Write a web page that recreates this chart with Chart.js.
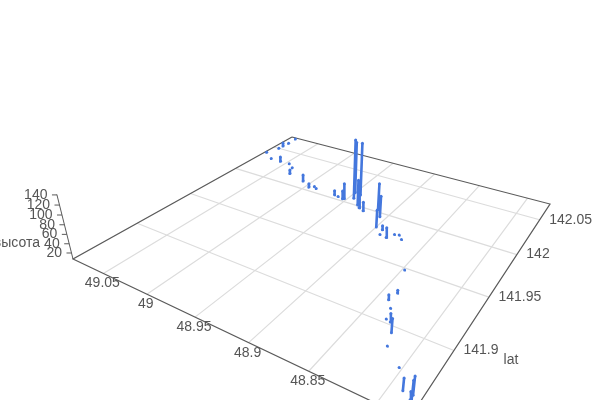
<!DOCTYPE html>
<html>
<head>
<meta charset="utf-8">
<script src="https://cdn.jsdelivr.net/npm/chart.js@4"></script>
<style>body{margin:0;background:#fff}canvas{display:block}</style>
</head>
<body>
<canvas id="chart" width="600" height="400"></canvas>
<script>
// track points
const lon = [49.081,49.080,49.081,49.081,49.086,49.071,49.058,49.046,49.037,49.031,49.009,48.996,48.992,48.988,48.965,48.960,
  48.954,48.953,48.945,48.950,48.935,48.931,48.943,48.925,48.900,48.914,48.906,48.893,48.884,48.891,48.880,48.876,
  48.871,48.848,48.839,48.841,48.835,48.832,48.828,48.822,48.818,48.802,48.791,48.784,48.784,48.783];
const lat = [142.074,142.063,142.056,142.050,142.038,142.030,142.030,142.030,142.025,142.016,142.011,142.005,142.008,142.006,142.005,142.004,
  142.003,142.004,142.008,142.016,142.001,141.998,142.015,141.996,141.982,142.003,141.995,141.981,141.974,141.975,141.980,141.981,
  141.977,141.948,141.926,141.918,141.912,141.903,141.902,141.895,141.885,141.875,141.863,141.863,141.860,141.860];
const height = [7,7,15,7,7,7,18,7,7,16,22,15,7,7,17,7,
  26,43,144,127,66,45,130,27,45,68,55,16,29,7,7,7,
  7,7,13,17,7,7,24,35,7,7,31,43,22,44];

const lonTicks = [49.05,49,48.95,48.9,48.85,48.8];
const latTicks = [141.9,141.95,142,142.05];
const heightTicks = [20,40,60,80,100,120,140];

// scene box and the camera: ground corners seen on screen, vanishing point of the verticals
const lonMax = 49.088, lonMin = 48.778, latMin = 141.85, latMax = 142.076, heightMin = 6.8;
const A = [73,259], D = [409,419], C = [550,204], B = [292,137], V = [321,1250];
const zScale = -0.000456;

const dx1 = D[0]-C[0], dx2 = B[0]-C[0], sx = A[0]-D[0]+C[0]-B[0];
const dy1 = D[1]-C[1], dy2 = B[1]-C[1], sy = A[1]-D[1]+C[1]-B[1];
const den = dx1*dy2-dx2*dy1;
const g = (sx*dy2-dx2*sy)/den, h = (dx1*sy-sx*dy1)/den;
const a = D[0]-A[0]+g*D[0], b = B[0]-A[0]+h*B[0], d = D[1]-A[1]+g*D[1], e = B[1]-A[1]+h*B[1];

function project(lo, la, z){
  const p = (lonMax-lo)/(lonMax-lonMin), q = (la-latMin)/(latMax-latMin);
  const s = zScale*(z-heightMin);
  const w = g*p+h*q+1+s;
  return {x:(a*p+b*q+A[0]+s*V[0])/w, y:(d*p+e*q+A[1]+s*V[1])/w};
}

const gridColor = '#dcdcdc', axisColor = '#5a5a5a', markColor = '#4477dd';

function lineSet(data, color, width){
  return {type:'scatter', data:data, showLine:true, borderColor:color, borderWidth:width, pointRadius:0, spanGaps:false};
}

let gridPts = [];
lonTicks.forEach(t => gridPts.push(project(t,latMin,heightMin), project(t,latMax,heightMin), {x:null,y:null}));
latTicks.forEach(t => gridPts.push(project(lonMin,t,heightMin), project(lonMax,t,heightMin), {x:null,y:null}));

const box = [project(lonMax,latMax,heightMin), project(lonMax,latMin,heightMin), project(lonMin,latMin,heightMin), project(lonMin,latMax,heightMin), project(lonMax,latMax,heightMin)];

let zAxis = [project(lonMax,latMin,heightMin), project(lonMax,latMin,141), {x:null,y:null}];
heightTicks.forEach(t => {
  const p = project(lonMax,latMin,t);
  zAxis.push({x:p.x-5,y:p.y}, p, {x:null,y:null});
});

let stems = [], dots = [];
lon.forEach((lo,i) => {
  const base = project(lo,lat[i],heightMin), top = project(lo,lat[i],height[i]);
  stems.push(base, top, {x:null,y:null});
  dots.push(top);
  if (height[i] > 7) dots.push(base);
});

const textLabels = {
  id:'textLabels',
  afterDraw(chart){
    const c = chart.ctx, sxx = chart.scales.x, syy = chart.scales.y;
    const put = (str, x, y, align) => {
      c.textAlign = align;
      c.fillText(str, sxx.getPixelForValue(x), syy.getPixelForValue(y));
    };
    c.save();
    c.font = '14px "Liberation Sans", Arial, sans-serif';
    c.fillStyle = '#555';
    c.textBaseline = 'middle';
    lonTicks.forEach(t => {
      const p = project(t,latMin,heightMin);
      put(String(t), p.x-1, p.y+10, 'center');
    });
    latTicks.forEach(t => {
      const p = project(lonMin,t,heightMin);
      put(String(t), p.x+9.5, p.y, 'left');
    });
    heightTicks.forEach(t => {
      const p = project(lonMax,latMin,t);
      put(String(t), p.x-9.5, p.y, 'right');
    });
    put('lat', 511, 360, 'center');
    put('высота', 40, 243, 'right');
    c.restore();
  }
};

new Chart(document.getElementById('chart'), {
  type:'scatter',
  data:{datasets:[
    {...lineSet(dots, markColor, 0), showLine:false, pointRadius:1.5, pointBackgroundColor:markColor, pointBorderWidth:0, order:1},
    {...lineSet(stems, markColor, 2.6), order:2},
    {...lineSet(zAxis, axisColor, 1), order:3},
    {...lineSet(box, axisColor, 1.2), order:4},
    {...lineSet(gridPts, gridColor, 1.2), order:5}
  ]},
  options:{
    responsive:false,
    animation:false,
    layout:{padding:0, autoPadding:false},
    plugins:{legend:{display:false}, tooltip:{enabled:false}},
    scales:{
      x:{type:'linear', min:0, max:600, display:false},
      y:{type:'linear', min:0, max:400, reverse:true, display:false}
    }
  },
  plugins:[textLabels]
});
</script>
</body>
</html>
